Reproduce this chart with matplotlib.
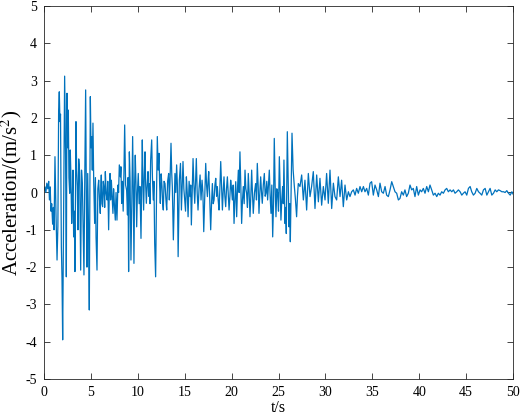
import numpy as np
import matplotlib
matplotlib.use('Agg')
import matplotlib.pyplot as plt

# valores (tempo em s, aceleração em m/s^2)
t_forte = [0.0, 0.1, 0.2, 0.3, 0.4, 0.5, 0.58, 0.66, 0.74, 0.82, 0.92,
           1.0, 1.07, 1.17, 1.28, 1.39, 1.48, 1.56, 1.63, 1.70, 1.76, 1.85, 1.92, 1.99,
           2.2, 2.3, 2.38, 2.45, 2.52, 2.59, 2.66, 2.74, 2.80, 2.86, 2.95,
           3.02, 3.09, 3.16, 3.23, 3.30, 3.41, 3.48, 3.55, 3.62, 3.70, 3.80, 3.91,
           4.0, 4.09]
a_forte = [0.05, 0.15, 0.0, 0.25, 0.1, 0.3, -0.2, 0.15, -0.5, -0.3, -0.85,
           -0.4, -1.0, 0.96, -0.6, -1.81, -0.9, 2.2, 2.7, 1.9, 2.1, -1.45, -2.3, -3.95,
           3.12, 1.0, -2.26, 2.66, 1.2, 2.21, 0.4, -0.02, 1.14, 0.53, -0.83,
           -0.2, 0.6, -1.19, -0.5, -2.12, 1.9, 0.6, 0.16, -1.0, 0.9, 0.53, -2.08,
           0.6, 0.24]

t_pico = [4.18, 4.26, 4.35, 4.44, 4.52, 4.58, 4.66, 4.75, 4.83, 4.94,
          5.01, 5.08, 5.15, 5.22, 5.30, 5.40, 5.48, 5.55, 5.65, 5.74, 5.83, 5.92,
          6.0, 6.06, 6.11, 6.18, 6.25, 6.32, 6.40, 6.47, 6.54, 6.62, 6.72, 6.80, 6.89, 6.96,
          7.04, 7.10, 7.18, 7.26, 7.35, 7.42, 7.50, 7.60, 7.68, 7.78, 7.88, 7.95,
          8.03, 8.14]
a_pico = [-1.0, -2.21, 0.5, 2.75, -0.3, -2.0, 0.51, -1.0, -3.15, 2.57,
          1.2, 1.5, 0.6, 1.86, 0.3, -0.83, 0.4, -1.2, -2.08, 0.1, 0.33, -0.2,
          -0.56, 0.2, 0.47, -0.3, -0.38, 0.3, 0.11, -0.4, 0.56, 0.0, -0.2, 0.3, -1.0, 0.0,
          0.51, -0.2, 0.33, -0.1, -0.56, 0.1, -0.3, -0.74, 0.0, -0.74, 0.2, 0.0,
          0.74, 0.42]

t_medio = [8.20, 8.28, 8.36, 8.44, 8.52, 8.60, 8.70, 8.81, 8.90, 8.96,
           9.02, 9.10, 9.18, 9.27, 9.36, 9.45, 9.52, 9.59, 9.66, 9.73, 9.80, 9.88, 9.96,
           10.05, 10.14, 10.23, 10.34, 10.48, 10.55, 10.62, 10.70, 10.77, 10.84, 10.91,
           11.00, 11.09, 11.16, 11.23, 11.30, 11.37, 11.48, 11.56, 11.65, 11.72, 11.80, 11.90,
           12.00, 12.08, 12.17, 12.26, 12.33, 12.40, 12.49, 12.58, 12.65, 12.72, 12.80, 12.90,
           13.00, 13.08, 13.18, 13.29, 13.36, 13.43, 13.54, 13.62, 13.68, 13.79, 13.88, 13.96,
           14.05, 14.14, 14.22, 14.30, 14.43]
a_medio = [0.69, -0.29, 0.3, -0.5, 0.5, 1.81, 0.2, 0.06, -0.6, 0.4,
           -2.12, 1.09, 0.3, -1.81, -0.3, 1.5, 0.1, -1.9, 0.2, 1.0, 0.3, -0.92, 0.0,
           0.51, -0.3, 0.16, -1.23, 1.41, 0.3, -0.47, 0.5, 1.09, 0.2, -0.29,
           0.2, 0.56, -0.1, 0.24, -0.3, 0.87, 1.41, 0.4, -0.2, 0.3, -1.36, -2.26,
           0.0, 1.5, 0.6, 1.05, 0.2, -0.29, 0.5, 0.16, -0.3, -0.47, 0.3, 0.24,
           -0.2, -0.47, 0.3, 0.51, -0.2, 0.24, 1.32, 0.5, 0.16, -1.27, -0.3, 0.51,
           0.0, 0.74, 0.2, -1.72, 0.33]

t_meio = [14.55, 14.60, 14.65, 14.74, 14.82, 14.91,
          15.00, 15.09, 15.18, 15.27, 15.36, 15.47, 15.57, 15.64, 15.71, 15.80, 15.89, 15.98,
          16.07, 16.16, 16.24, 16.33, 16.42, 16.53, 16.64, 16.74, 16.85, 16.94,
          17.03, 17.13, 17.24, 17.33, 17.42, 17.49, 17.56, 17.66, 17.77, 17.86, 17.95,
          18.04, 18.13, 18.22, 18.31, 18.40, 18.48, 18.57, 18.66, 18.75, 18.84, 18.93,
          19.02, 19.10, 19.19, 19.28, 19.37, 19.46, 19.55, 19.64, 19.73, 19.82, 19.90, 19.99,
          20.08, 20.17, 20.26, 20.35, 20.44]
a_meio = [0.78, 0.1, -0.47, 0.2, 0.83, 0.1,
          -0.2, -0.5, 0.42, 0.0, -0.65, 0.3, -0.11, 0.2, -0.87, 0.0, 0.91, 0.2,
          -0.29, 0.3, 0.91, 0.0, -0.47, 0.1, 0.47, -0.2, 0.33, 0.0,
          -1.05, -0.2, 0.78, 0.2, -0.11, 0.3, 0.56, -0.1, -1.0, -0.3, 0.24,
          -0.3, -0.2, 0.2, 0.38, -0.1, 0.16, -0.2, -0.47, 0.1, 0.83, 0.2,
          -0.47, 0.0, 0.42, -0.1, -0.38, 0.1, 0.42, 0.0, -0.47, -0.1, 0.33, 0.1,
          -0.2, 0.2, -0.83, -0.2, 0.29]

t_final = [20.54, 20.63, 20.72, 20.80, 20.89, 20.98,
           21.07, 21.16, 21.25, 21.34, 21.43, 21.52, 21.60, 21.69, 21.78, 21.87, 21.96,
           22.05, 22.14, 22.22, 22.31, 22.44, 22.56, 22.65, 22.74, 22.83, 22.92,
           23.01, 23.10, 23.19, 23.27, 23.38, 23.49, 23.58, 23.66, 23.75, 23.84, 23.93,
           24.02, 24.11, 24.20, 24.29, 24.38, 24.47, 24.55, 24.64, 24.73, 24.82, 24.91,
           25.00, 25.09, 25.18, 25.26, 25.35, 25.44, 25.51, 25.58, 25.69, 25.76, 25.83, 25.94,
           26.03, 26.12, 26.19, 26.26, 26.44, 26.56, 26.69, 26.81, 26.93,
           27.02, 27.11]
a_final = [-0.65, 0.1, 0.60, 0.0, 1.09, 0.2,
           -0.83, -0.2, 0.16, -0.3, 0.60, 0.1, -0.02, -0.4, 0.51, 0.0, -0.65,
           -0.1, 0.60, 0.0, -0.56, 0.0, 0.24, -0.2, 0.78, 0.2, -0.56,
           0.0, 0.42, 0.0, -0.29, 0.2, 0.51, -0.1, -0.02, 0.3, -0.2, 0.2,
           0.6, -0.1, -0.56, 0.2, -1.19, -0.3, 1.45, 0.2, -0.65, 0.1, -0.02,
           -0.5, 0.96, 0.1, -0.74, -0.2, 0.16, -0.3, 0.87, -0.83, -0.4, -1.10, 1.63,
           0.3, -0.92, -0.3, -1.32, 1.59, 0.6, 0.16, -0.2, -0.65,
           -0.1, 0.24]

t_decai = [27.29, 27.47, 27.65, 27.82, 28.00, 28.18, 28.36, 28.53, 28.71, 28.89,
           29.07, 29.25, 29.42, 29.60, 29.78, 29.96, 30.13, 30.31, 30.49, 30.67,
           30.85, 31.02, 31.20, 31.38, 31.56, 31.73, 31.91, 32.09, 32.27, 32.45,
           32.62, 32.80, 32.98, 33.16, 33.33, 33.51, 33.69, 33.87, 34.05, 34.22,
           34.40, 34.58, 34.76, 34.93, 35.11, 35.29, 35.47, 35.65, 35.82, 36.00,
           36.18, 36.36, 36.53, 36.71, 36.89, 37.07, 37.24, 37.42, 37.60, 37.78]
a_decai = [0.16, 0.47, -0.2, 0.33, -0.47, 0.51, -0.11, 0.16, 0.56, -0.43,
           0.47, -0.25, 0.38, -0.34, 0.16, -0.2, 0.51, -0.29, 0.6, -0.43,
           0.25, -0.11, -0.2, 0.42, -0.11, 0.33, -0.38, 0.2, -0.2, 0.02,
           -0.11, 0.02, 0.07, -0.07, 0.11, -0.02, 0.16, 0.02, 0.16, 0.02,
           0.11, -0.07, 0.25, 0.29, -0.07, 0.2, 0.07, -0.11, 0.25, 0.02,
           -0.02, 0.16, -0.07, -0.11, 0.07, 0.29, 0.16, 0.02, -0.02, -0.2]

t_cauda = [37.95, 38.13, 38.31, 38.48, 38.66, 38.84, 39.02, 39.20, 39.37, 39.55,
           39.73, 39.91, 40.09, 40.26, 40.44, 40.62, 40.80, 40.98, 41.15, 41.33,
           41.51, 41.69, 41.87, 42.04, 42.22, 42.40, 42.58, 42.76, 42.93, 43.11,
           43.29, 43.47, 43.65, 43.82, 44.00, 44.18, 44.36, 44.54, 44.71, 44.89,
           45.07, 45.25, 45.43, 45.60, 45.78, 45.96, 46.14, 46.32, 46.49, 46.67,
           46.85, 47.03, 47.21, 47.38, 47.56, 47.74, 47.92, 48.10, 48.27, 48.45,
           48.63, 48.81, 48.99, 49.16, 49.34, 49.52, 49.70, 49.88, 50.0]
a_cauda = [-0.16, 0.02, -0.07, 0.07, -0.11, -0.02, 0.2, 0.07, 0.11, -0.11,
           0.16, -0.07, 0.07, 0.02, 0.11, -0.02, 0.16, 0.02, 0.2, 0.07,
           -0.07, -0.02, -0.11, -0.02, -0.07, 0.02, -0.02, 0.07, 0.11, 0.02,
           0.07, 0.02, 0.07, -0.02, 0.02, 0.07, 0.02, -0.07, -0.02, 0.02,
           -0.07, 0.11, 0.16, 0.02, -0.07, -0.02, 0.11, 0.02, -0.02, -0.07,
           0.07, 0.11, -0.07, 0.02, 0.11, -0.07, -0.02, 0.07, 0.02, 0.07,
           0.05, 0.02, 0.02, 0.0, 0.05, -0.02, -0.07, 0.02, -0.04]

tempos = np.concatenate([t_forte, t_pico, t_medio, t_meio, t_final, t_decai, t_cauda])
acel = np.concatenate([a_forte, a_pico, a_medio, a_meio, a_final, a_decai, a_cauda])

plt.rcParams['font.family'] = ['Liberation Serif', 'DejaVu Serif']
plt.rcParams['mathtext.fontset'] = 'stix'
plt.rcParams['axes.unicode_minus'] = False

fig = plt.figure(figsize=(5.26, 4.19), dpi=100)
ax = fig.add_axes([44 / 526, 1 - 379 / 419, 469 / 526, 373 / 419])

ax.plot(tempos, acel, color='#0072BD', linewidth=0.9)

ax.set_xlim(0, 50)
ax.set_ylim(-5, 5)
ax.set_xticks(np.arange(0, 51, 5))
ax.set_yticks(np.arange(-5, 6, 1))
ax.tick_params(direction='in', top=True, right=True, length=4, width=0.6,
               labelsize=10, colors='#262626', labelcolor='black', pad=5)
for s in ax.spines.values():
    s.set_color('#262626')
    s.set_linewidth(0.6)

ax.set_xlabel('t/s', fontsize=11.5, labelpad=1)
ax.set_ylabel(r'Acceleration/(m/s$^{2}$)', fontsize=15, labelpad=1)

fig.savefig('out.png', dpi=100)
